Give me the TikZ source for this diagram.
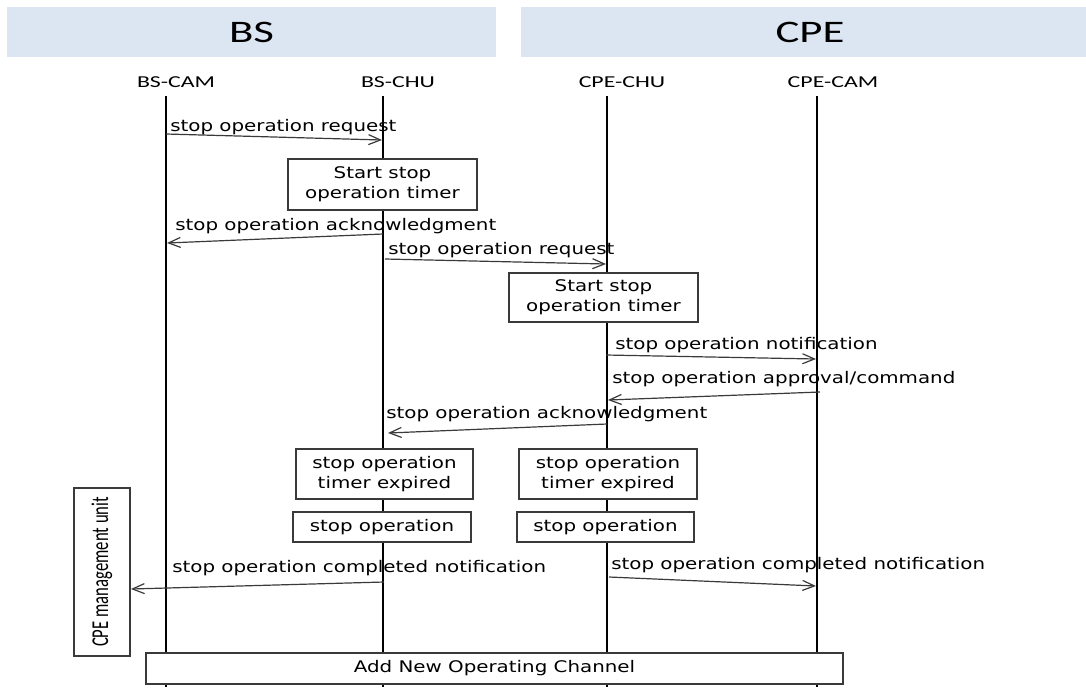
\documentclass[tikz,border=0pt]{standalone}
\usepackage{fontspec}
\usetikzlibrary{arrows.meta}
\newfontfamily\hdrfont[FakeStretch=1.43]{Carlito}
\newfontfamily\msgfont[FakeStretch=1.24]{DejaVu Sans}
\newfontfamily\sidefont{Carlito}
\definecolor{bandfill}{HTML}{DCE6F2}
\definecolor{edgegray}{HTML}{3A3A3A}
\begin{document}
\begin{tikzpicture}[x=0.75pt,y=-0.75pt,
  band/.style={fill=bandfill,draw=none,inner sep=0,
    font=\hdrfont\fontsize{23.5}{27}\selectfont},
  lifelabel/.style={inner sep=0,font=\hdrfont\fontsize{12.5}{15}\selectfont},
  life/.style={line width=1.4pt,black},
  stepbox/.style={draw=edgegray,fill=white,line width=1.4pt,inner sep=0,
    align=center,font=\msgfont\fontsize{12}{14.8}\selectfont},
  msg/.style={line width=0.9pt,edgegray,
    -{Straight Barb[length=9pt,width=7.5pt,line width=0.9pt]}},
  msglabel/.style={anchor=base west,inner sep=0,
    font=\msgfont\fontsize{12}{14}\selectfont}]
\useasboundingbox (0,0) rectangle (1086,687);

% header bands
\node[band,minimum width=489*0.75pt,minimum height=50*0.75pt] (bsband) at (251.5,32) {};
\node[band,minimum width=565*0.75pt,minimum height=50*0.75pt] (cpeband) at (803.5,32) {};
\node[band,fill=none] (bstitle) at (251.5,32) {BS};
\node[band,fill=none] (cpetitle) at (810,32) {CPE};

% entity names
\node[lifelabel,anchor=base] (bscam) at (176,87) {BS-CAM};
\node[lifelabel,anchor=base] (bschu) at (398,87) {BS-CHU};
\node[lifelabel,anchor=base] (cpechu) at (622,87) {CPE-CHU};
\node[lifelabel,anchor=base] (cpecam) at (833,87) {CPE-CAM};

% lifelines
\coordinate (bscamT) at (166,96);  \coordinate (bscamB) at (166,687);
\coordinate (bschuT) at (383,96);  \coordinate (bschuB) at (383,687);
\coordinate (cpechuT) at (607,96); \coordinate (cpechuB) at (607,687);
\coordinate (cpecamT) at (817,96); \coordinate (cpecamB) at (817,687);
\draw[life] (bscamT) -- (bscamB);
\draw[life] (bschuT) -- (bschuB);
\draw[life] (cpechuT) -- (cpechuB);
\draw[life] (cpecamT) -- (cpecamB);

% activity boxes
\node[stepbox,minimum width=189*0.75pt,minimum height=51*0.75pt] (startbs) at (382.5,184.5) {Start stop\\operation timer};
\node[stepbox,minimum width=189*0.75pt,minimum height=49*0.75pt] (startcpe) at (603.5,297.5) {Start stop\\operation timer};
\node[stepbox,minimum width=177*0.75pt,minimum height=50*0.75pt] (expbs) at (384.5,474) {stop operation\\timer expired};
\node[stepbox,minimum width=178*0.75pt,minimum height=50*0.75pt] (expcpe) at (608,474) {stop operation\\timer expired};
\node[stepbox,minimum width=178*0.75pt,minimum height=30*0.75pt] (opbs) at (382,527) {stop operation};
\node[stepbox,minimum width=177*0.75pt,minimum height=30*0.75pt] (opcpe) at (605.5,527) {stop operation};
\node[stepbox,minimum width=56*0.75pt,minimum height=168*0.75pt] (mgmt) at (102,572) {};
\node[rotate=90,inner sep=0,font=\sidefont\fontsize{12.5}{14}\selectfont] (mgmttext) at (mgmt.center) {\scalebox{1}[1.45]{CPE management unit}};
\node[stepbox,minimum width=697*0.75pt,minimum height=31*0.75pt] (addch) at (494.5,668.5) {Add New Operating Channel};

% message end points
\coordinate (m1s) at (166,134); \coordinate (m1e) at (382,140);
\coordinate (m2s) at (383,234); \coordinate (m2e) at (167,243);
\coordinate (m3s) at (385,259); \coordinate (m3e) at (606,264);
\coordinate (m4s) at (606,355); \coordinate (m4e) at (816,359);
\coordinate (m5s) at (820,392); \coordinate (m5e) at (608,400);
\coordinate (m6s) at (607,424); \coordinate (m6e) at (388,433);
\coordinate (m7s) at (384,582); \coordinate (m7e) at (mgmt.east |- 0,589);
\coordinate (m8s) at (609,577); \coordinate (m8e) at (816,586);

\draw[msg] (m1s) -- (m1e);
\draw[msg] (m2s) -- (m2e);
\draw[msg] (m3s) -- (m3e);
\draw[msg] (m4s) -- (m4e);
\draw[msg] (m5s) -- (m5e);
\draw[msg] (m6s) -- (m6e);
\draw[msg] (m7s) -- (m7e);
\draw[msg] (m8s) -- (m8e);

% message labels
\node[msglabel] (l1) at (170,131) {stop operation request};
\node[msglabel] (l2) at (175,230) {stop operation acknowledgment};
\node[msglabel] (l3) at (388,254) {stop operation request};
\node[msglabel] (l4) at (615,349) {stop operation notification};
\node[msglabel] (l5) at (612,383) {stop operation approval/command};
\node[msglabel] (l6) at (386,418) {stop operation acknowledgment};
\node[msglabel] (l7) at (172,572) {stop operation completed notification};
\node[msglabel] (l8) at (611,569) {stop operation completed notification};
\end{tikzpicture}
\end{document}
